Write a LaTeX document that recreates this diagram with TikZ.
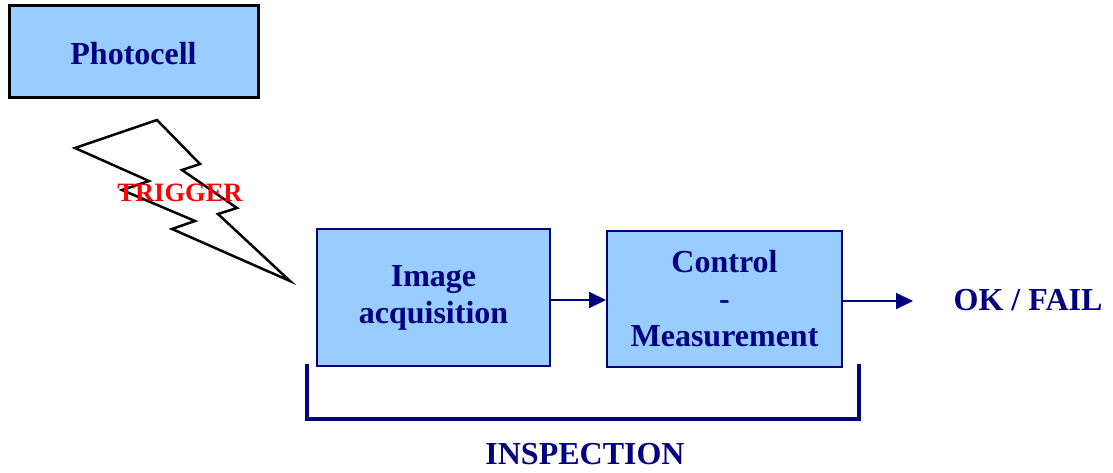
\documentclass[tikz,border=0pt]{standalone}
\usepackage{fontspec}
\setmainfont{Liberation Serif}
\usetikzlibrary{arrows.meta}
\definecolor{navyc}{HTML}{000080}
\definecolor{boxfill}{HTML}{99CCFF}
\definecolor{trigred}{HTML}{FF0000}
\tikzset{
  lbl/.style={text=navyc, font=\fontsize{32}{37}\selectfont\bfseries, align=center, inner sep=0pt},
  blockbox/.style={lbl, draw=navyc, line width=2pt, fill=boxfill, inner sep=0pt},
  arr/.style={draw=navyc, line width=2pt, -{Triangle[length=17pt,width=16pt]}},
  bracket/.style={draw=navyc, line width=4.5pt},
  bolt/.style={draw=black, line width=2.5pt, line join=miter}
}
\begin{document}
\begin{tikzpicture}[x=1pt,y=-1pt]
\useasboundingbox (0,0) rectangle (1113,473);
% Photocell
\node[blockbox, draw=black, line width=3pt, minimum width=249pt, minimum height=92pt,
      text height=26pt, text depth=0pt] (photo) at (133.5,52) {Photocell};
% Lightning bolt
\draw[bolt] (75,148) -- (149,181) -- (122,190) -- (195,221) -- (172,229) -- (290,281)
  -- (218,214) -- (237,208) -- (182,170) -- (200,164) -- (157,120) -- cycle;
\node[font=\fontsize{26.5}{30}\selectfont\bfseries, text=trigred, inner sep=0pt, anchor=base] (trig) at (180,201.5) {TRIGGER};
% Blocks
\node[blockbox, minimum width=233pt, minimum height=137pt] (img) at (433.5,297.5) {Image\\acquisition};
\node[blockbox, minimum width=235pt, minimum height=136pt] (ctl) at (724.5,299) {Control\\-\\Measurement};
\coordinate (out) at (913,301);
\draw[arr] (img.east |- 0,300) -- (ctl.west |- 0,300);
\draw[arr] (ctl.east |- out) -- (out);
\node[lbl, anchor=base] (ok) at (1028,310) {OK / FAIL};
% Inspection bracket
\coordinate (b1) at (307,364);
\coordinate (b2) at (307,419);
\coordinate (b3) at (859,419);
\coordinate (b4) at (859,364);
\draw[bracket] (b1) -- (b2) -- (b3) -- (b4);
\node[lbl, anchor=base] (insp) at (585,464) {INSPECTION};
\end{tikzpicture}
\end{document}
